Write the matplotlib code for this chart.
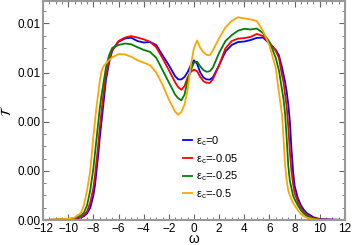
import numpy as np
import matplotlib
matplotlib.use('Agg')
from matplotlib import pyplot as plt
from matplotlib.ticker import MultipleLocator, FormatStrFormatter

plt.rcParams['font.family'] = ['Liberation Sans', 'DejaVu Sans']
plt.rcParams['mathtext.fontset'] = 'dejavusans'

# frequency grid (denser on the band edges)
omega = [-12, -10, -9.5, -9, -8.75, -8.5, -8.25, -8, -7.875, -7.75, -7.625,
         -7.5, -7.375, -7.25, -7.125, -7, -6.75, -6.5, -6, -5.5, -5, -4.5,
         -4, -3.5, -3, -2.5, -2, -1.5, -1.25, -1, -0.75, -0.5, -0.25, 0, 0.25,
         0.5, 0.75, 1, 1.25, 1.5, 2, 2.5, 3, 3.5, 4, 4.5, 5, 5.5, 6, 6.5,
         6.75, 7, 7.125, 7.25, 7.375, 7.5, 7.625, 7.75, 7.875, 8, 8.25, 8.5,
         8.75, 9, 9.5, 10, 12]

# transmission, eps_c = 0
t_0 = [0, 0.00002, 0.00005, 0.0001, 0.00016, 0.00027, 0.0005, 0.001, 0.0014,
       0.002, 0.0026, 0.0033, 0.0039, 0.0045, 0.0051, 0.0057, 0.0064, 0.0069,
       0.00725, 0.00738, 0.00742, 0.00728, 0.00722, 0.00724, 0.00712, 0.0067,
       0.0063, 0.00585, 0.00572, 0.00572, 0.00582, 0.00602, 0.0063, 0.0065,
       0.00635, 0.006, 0.0058, 0.00572, 0.00571, 0.0058, 0.0063, 0.00685,
       0.00712, 0.00724, 0.00726, 0.00732, 0.00741, 0.00742, 0.00718,
       0.00692, 0.0067, 0.0062, 0.0059, 0.0056, 0.0052, 0.0047, 0.004,
       0.0029, 0.002, 0.0014, 0.0009, 0.0006, 0.0004, 0.00027, 0.00011,
       0.00004, 0]

# eps_c = -0.05
t_005 = [0, 0.00002, 0.00006, 0.00012, 0.0002, 0.00035, 0.0007, 0.0013,
         0.0018, 0.0024, 0.003, 0.0037, 0.0043, 0.0049, 0.0054, 0.0059,
         0.0065, 0.0069, 0.00728, 0.00742, 0.00748, 0.00742, 0.00735,
         0.00725, 0.00703, 0.00658, 0.0061, 0.0056, 0.0054, 0.0053, 0.00545,
         0.0058, 0.00603, 0.00612, 0.00605, 0.00582, 0.00565, 0.00558,
         0.00558, 0.00572, 0.0063, 0.00698, 0.00728, 0.00738, 0.0074,
         0.00745, 0.00757, 0.00748, 0.00722, 0.00688, 0.0066, 0.0059, 0.0056,
         0.0051, 0.0046, 0.0038, 0.0028, 0.002, 0.0015, 0.0011, 0.00075,
         0.0005, 0.00032, 0.0002, 0.00007, 0.00002, 0]

# eps_c = -0.25
t_025 = [0, 0.00003, 0.00008, 0.00018, 0.0003, 0.0006, 0.0012, 0.0021,
         0.0027, 0.0033, 0.0039, 0.0045, 0.005, 0.0054, 0.0058, 0.0062,
         0.0067, 0.007, 0.00712, 0.00718, 0.00715, 0.00703, 0.00692, 0.00684,
         0.0066, 0.0061, 0.0056, 0.0051, 0.00495, 0.00487, 0.0051, 0.0057,
         0.0061, 0.0064, 0.00644, 0.00625, 0.0061, 0.00603, 0.00605, 0.0062,
         0.0068, 0.00728, 0.00752, 0.0077, 0.00778, 0.00775, 0.00779, 0.0076,
         0.00725, 0.0066, 0.0061, 0.0053, 0.0049, 0.0043, 0.0033, 0.0022,
         0.0016, 0.0013, 0.001, 0.00085, 0.0006, 0.0004, 0.00025, 0.00015,
         0.00005, 0.00001, 0]

# eps_c = -0.5
t_05 = [0, 0.00005, 0.0001, 0.00028, 0.0006, 0.0012, 0.002, 0.0034, 0.004,
        0.0046, 0.0051, 0.0056, 0.006, 0.0062, 0.0063, 0.00637, 0.0065,
        0.00662, 0.00675, 0.00674, 0.00664, 0.0065, 0.0064, 0.0063, 0.006,
        0.0055, 0.0049, 0.0044, 0.00428, 0.0044, 0.0047, 0.0053, 0.0063,
        0.007, 0.0073, 0.007, 0.00683, 0.00672, 0.0067, 0.0069, 0.0074,
        0.00783, 0.0081, 0.00825, 0.0082, 0.00816, 0.00809, 0.00768, 0.0071,
        0.0062, 0.0052, 0.0043, 0.0033, 0.0022, 0.0016, 0.0012, 0.001,
        0.00085, 0.0007, 0.0006, 0.0004, 0.00025, 0.00015, 0.00009, 0.00003,
        0.00001, 0]

labels = ['ε$_\\mathregular{c}$=0', 'ε$_\\mathregular{c}$=-0.05',
          'ε$_\\mathregular{c}$=-0.25', 'ε$_\\mathregular{c}$=-0.5']
colors = ['#0000ff', '#ff0000', '#008000', '#ffa500']

fig = plt.figure(figsize=(3.53, 2.45), dpi=100)
ax = fig.add_axes([0.122, 0.102, 0.855, 0.893])

for t, lab, c in zip([t_0, t_005, t_025, t_05], labels, colors):
    ax.plot(omega, t, color=c, lw=1.3, label=lab)

ax.set_xlim(-12, 12)
ax.set_ylim(0, 0.0089)
ax.xaxis.set_major_locator(MultipleLocator(2))
ax.xaxis.set_minor_locator(MultipleLocator(0.5))
ax.yaxis.set_major_locator(MultipleLocator(0.002))
ax.yaxis.set_minor_locator(MultipleLocator(0.0005))
ax.yaxis.set_major_formatter(FormatStrFormatter('%.2f'))

for s in ax.spines.values():
    s.set_color('#999999')
    s.set_linewidth(1.5)
ax.tick_params(which='both', direction='in', top=True, right=True,
               color='#666666', labelsize=8.5, pad=2)
ax.tick_params(which='major', length=4, width=0.8)
ax.tick_params(which='minor', length=2, width=0.6)

# x label placed by hand so it sits just under the tick labels
ax.set_xlabel('ω', fontsize=10)
ax.xaxis.set_label_coords(0.5, -0.086, transform=ax.transAxes)
ax.xaxis.label.set_va('center')
ax.set_ylabel(r'$\mathcal{T}$', fontsize=10, labelpad=2)

ax.legend(loc='upper left', bbox_to_anchor=(0.437, 0.428), frameon=False,
          fontsize=8, handlelength=0.8, handletextpad=0.4,
          labelspacing=0.35, borderpad=0.2)

fig.savefig('out.png', dpi=100)
